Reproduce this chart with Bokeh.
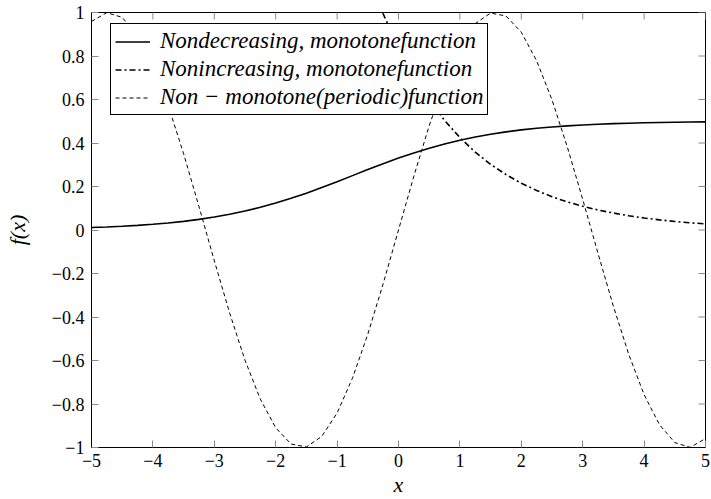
import math
from bokeh.plotting import figure
from bokeh.models import (Range1d, FixedTicker, CustomJSTickFormatter, Legend, LegendItem)
from bokeh.embed import file_html
from bokeh.resources import INLINE

# ---- data ----
x_inc = [-5, -4.75, -4.5, -4.25, -4, -3.75, -3.5, -3.25, -3, -2.75, -2.5, -2.25, -2,
         -1.75, -1.5, -1.25, -1, -0.75, -0.5, -0.25, 0, 0.25, 0.5, 0.75, 1, 1.25, 1.5,
         1.75, 2, 2.25, 2.5, 2.75, 3, 3.25, 3.5, 3.75, 4, 4.25, 4.5, 4.75, 5]
y_inc = [0.0112, 0.0138, 0.0172, 0.0212, 0.0263, 0.0324, 0.0398, 0.0488, 0.0595, 0.0722,
         0.0870, 0.1042, 0.1237, 0.1455, 0.1695, 0.1953, 0.2223, 0.2500, 0.2777, 0.3047,
         0.3305, 0.3544, 0.3763, 0.3958, 0.4130, 0.4279, 0.4405, 0.4512, 0.4602, 0.4676,
         0.4738, 0.4787, 0.4829, 0.4862, 0.4889, 0.4911, 0.4928, 0.4942, 0.4954, 0.4963,
         0.4970]

x_dec = [-0.5, -0.25, 0, 0.25, 0.5, 0.75, 1, 1.25, 1.5, 1.75, 2, 2.25, 2.5, 2.75, 3,
         3.25, 3.5, 3.75, 4, 4.25, 4.5, 4.75, 5]
y_dec = [1.178, 0.994, 0.839, 0.708, 0.597, 0.504, 0.425, 0.358, 0.302, 0.255, 0.215,
         0.182, 0.153, 0.129, 0.109, 0.092, 0.078, 0.0655, 0.0552, 0.0466, 0.0393,
         0.0332, 0.0280]

x_per = x_inc
y_per = [0.9589, 0.9993, 0.9775, 0.8950, 0.7568, 0.5716, 0.3508, 0.1082, -0.1411,
         -0.3817, -0.5985, -0.7781, -0.9093, -0.9840, -0.9975, -0.9490, -0.8415,
         -0.6816, -0.4794, -0.2474, 0.0, 0.2474, 0.4794, 0.6816, 0.8415, 0.9490, 0.9975,
         0.9840, 0.9093, 0.7781, 0.5985, 0.3817, 0.1411, -0.1082, -0.3508, -0.5716,
         -0.7568, -0.8950, -0.9775, -0.9993, -0.9589]

x_ticks = [-5, -4, -3, -2, -1, 0, 1, 2, 3, 4, 5]
y_ticks = [-1, -0.8, -0.6, -0.4, -0.2, 0, 0.2, 0.4, 0.6, 0.8, 1]

labels = ["Nondecreasing, monotonefunction",
          "Nonincreasing, monotonefunction",
          "Non \u2212 monotone(periodic)function"]

FONT = "Liberation Serif"
X0, X1, Y0, Y1 = -5, 5, -1, 1

p = figure(width=711, height=499, output_backend="svg", toolbar_location=None,
           x_range=Range1d(X0, X1), y_range=Range1d(Y0, Y1),
           min_border_left=91, min_border_right=6, min_border_top=12,
           min_border_bottom=51)
p.background_fill_color = "white"
p.border_fill_color = "white"
p.outline_line_color = "black"
p.outline_line_width = 1
p.xgrid.visible = False
p.ygrid.visible = False

fmt = CustomJSTickFormatter(code="""
var v = Math.round(tick*10)/10;
return v.toString().replace('-', '\\u2212');
""")

TICK_COL = "#8a8a8a"

for ax, tk in ((p.xaxis[0], x_ticks), (p.yaxis[0], y_ticks)):
    ax.ticker = FixedTicker(ticks=tk)
    ax.formatter = fmt
    ax.major_tick_in = 7
    ax.major_tick_out = 0
    ax.major_tick_line_color = TICK_COL
    ax.minor_tick_line_color = None
    ax.axis_line_color = "black"
    ax.major_label_text_font = FONT
    ax.major_label_text_font_size = "18px"
    ax.major_label_text_color = "black"
    ax.axis_label_text_font = FONT
    ax.axis_label_text_font_style = "italic"
    ax.axis_label_text_font_size = "22px"
    ax.axis_label_text_color = "black"

p.xaxis[0].major_label_standoff = 6
p.xaxis[0].axis_label = "x"
p.xaxis[0].axis_label_standoff = 2
p.yaxis[0].major_label_standoff = 7
p.yaxis[0].axis_label = "f(x)"
p.yaxis[0].axis_label_standoff = 19

# mirrored inward ticks on the top and right edges (half of each dash is clipped)
p.scatter(x=x_ticks, y=[Y1] * len(x_ticks), marker="dash", size=14, angle=math.pi / 2,
          line_color=TICK_COL, line_width=1)
p.scatter(x=[X1] * len(y_ticks), y=y_ticks, marker="dash", size=14,
          line_color=TICK_COL, line_width=1)

r1 = p.line(x_inc, y_inc, line_color="black", line_width=1.6)
r2 = p.line(x_dec, y_dec, line_color="black", line_width=1.6, line_dash="6 3 2 3")
r3 = p.line(x_per, y_per, line_color="black", line_width=1.0, line_dash="4 3")

legend = Legend(items=[LegendItem(label=labels[0], renderers=[r1]),
                       LegendItem(label=labels[1], renderers=[r2]),
                       LegendItem(label=labels[2], renderers=[r3])],
                location=(19, 332))
legend.label_text_font = FONT
legend.label_text_font_style = "italic"
legend.label_text_font_size = "23px"
legend.label_text_color = "black"
legend.border_line_color = "black"
legend.border_line_width = 1
legend.border_line_alpha = 1
legend.background_fill_color = "white"
legend.background_fill_alpha = 1
legend.glyph_width = 35
legend.glyph_height = 25
legend.label_height = 25
legend.spacing = 2
legend.padding = 4
legend.label_standoff = 10
legend.margin = 0
p.add_layout(legend, "center")

with open("out.html", "w", encoding="utf-8") as f:
    f.write(file_html(p, INLINE))
